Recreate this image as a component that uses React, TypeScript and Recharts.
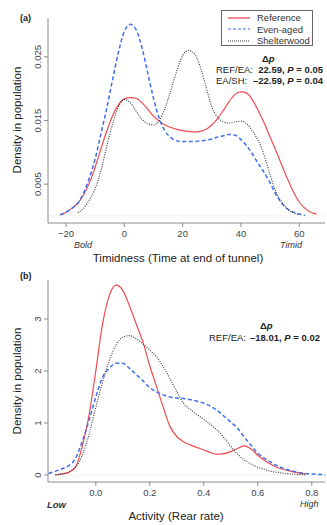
import React from 'react';
import { LineChart, Line, XAxis, YAxis, ReferenceLine } from 'recharts';

// (a) Timidness density curves
const timidX = [-22, -20, -18, -16, -14, -12, -10, -8, -6, -4, -2, 0, 2, 4, 6, 8, 10, 12, 14, 16, 18, 20, 22, 24, 26, 28, 30, 32, 34, 36, 38, 40, 42, 44, 46, 48, 50, 52, 54, 56, 58, 60, 62, 64, 66];
const timidRef = [0.0002, 0.0006, 0.0012, 0.002, 0.0033, 0.0052, 0.0077, 0.0106, 0.0134, 0.0158, 0.0175, 0.0184, 0.0186, 0.0185, 0.0178, 0.0168, 0.0157, 0.0149, 0.0143, 0.0139, 0.0136, 0.0134, 0.0133, 0.0132, 0.0133, 0.0136, 0.0143, 0.0153, 0.0166, 0.018, 0.0191, 0.0195, 0.0193, 0.0182, 0.0165, 0.0146, 0.0124, 0.0103, 0.008, 0.0058, 0.0038, 0.0022, 0.0012, 0.0006, 0.0003];
const timidEven = [0.0002, 0.0006, 0.0012, 0.002, 0.0036, 0.006, 0.009, 0.013, 0.017, 0.0215, 0.0258, 0.029, 0.0301, 0.0293, 0.0265, 0.0225, 0.0185, 0.0153, 0.0133, 0.0123, 0.0118, 0.0117, 0.0117, 0.0117, 0.0118, 0.0119, 0.0121, 0.0124, 0.0126, 0.0128, 0.0127, 0.012, 0.011, 0.0097, 0.0082, 0.0068, 0.0052, 0.0034, 0.002, 0.0011, 0.0006, 0.0003, 0.0001, null, null];
const timidShelter = [null, null, null, 0.0005, 0.0012, 0.0025, 0.0043, 0.0072, 0.011, 0.0145, 0.0172, 0.0183, 0.0178, 0.0165, 0.0152, 0.0145, 0.0143, 0.015, 0.017, 0.0198, 0.0228, 0.0252, 0.026, 0.0255, 0.0235, 0.0203, 0.0172, 0.0155, 0.0148, 0.0146, 0.0148, 0.0149, 0.0145, 0.0133, 0.0118, 0.0095, 0.0065, 0.0038, 0.0022, 0.0011, 0.0005, 0.0002, null, null, null];
const timidTicks = [-20, 0, 20, 40, 60];
const timidYTicks = [0.005, 0.015, 0.025];

// (b) Activity density curves
const actX = [-0.175, -0.15, -0.125, -0.1, -0.075, -0.05, -0.025, 0, 0.025, 0.05, 0.075, 0.1, 0.125, 0.15, 0.175, 0.2, 0.225, 0.25, 0.275, 0.3, 0.325, 0.35, 0.375, 0.4, 0.425, 0.45, 0.475, 0.5, 0.525, 0.55, 0.575, 0.6, 0.625, 0.65, 0.675, 0.7, 0.725, 0.75, 0.775, 0.8, 0.825, 0.85];
const actRef = [null, 0, 0.02, 0.05, 0.15, 0.55, 1.15, 2.0, 2.9, 3.45, 3.65, 3.55, 3.25, 2.9, 2.55, 2.1, 1.7, 1.3, 0.93, 0.74, 0.64, 0.58, 0.53, 0.48, 0.43, 0.4, 0.41, 0.45, 0.51, 0.56, 0.5, 0.38, 0.28, 0.2, 0.14, 0.1, 0.07, 0.04, 0.02, null, null, null];
const actEven = [0.03, 0.07, 0.12, 0.18, 0.32, 0.65, 1.05, 1.5, 1.88, 2.05, 2.15, 2.15, 2.05, 1.93, 1.81, 1.68, 1.6, 1.54, 1.5, 1.48, 1.47, 1.45, 1.42, 1.38, 1.32, 1.24, 1.13, 1.02, 0.9, 0.73, 0.57, 0.42, 0.32, 0.24, 0.17, 0.12, 0.08, 0.05, 0.03, 0.02, 0.01, 0.005];
const actShelter = [null, 0, 0.02, 0.06, 0.15, 0.38, 0.78, 1.3, 1.78, 2.2, 2.5, 2.65, 2.68, 2.62, 2.52, 2.4, 2.27, 2.08, 1.85, 1.6, 1.38, 1.26, 1.16, 1.07, 0.97, 0.86, 0.72, 0.55, 0.4, 0.29, 0.21, 0.15, 0.11, 0.07, 0.05, 0.03, 0.02, 0.01, 0.005, null, null, null];
const actTicks = [0, 0.2, 0.4, 0.6, 0.8];
const actYTicks = [0, 1, 2, 3];

const timidRows = timidX.map((x, i) => ({ x, ref: timidRef[i], even: timidEven[i], shelter: timidShelter[i] }));
const actRows = actX.map((x, i) => ({ x, ref: actRef[i], even: actEven[i], shelter: actShelter[i] }));

const FONT = '"Liberation Sans", Arial, sans-serif';
const colors = {
    ref: '#ef4b4f',
    even: '#3f6ff2',
    shelter: '#333333',
    axis: '#8c8c8c',
    tick: '#444444',
    text: '#222222',
};

const XTick = (fmt: (v: number) => string) => (props: any) => {
    const { x, y, payload } = props;
    return (
        <text x={x} y={y + 8} textAnchor="middle" fontSize={9.5} fill={colors.tick} fontFamily={FONT}>
            {fmt(payload.value)}
        </text>
    );
};

const YTick = (fmt: (v: number) => string) => (props: any) => {
    const { x, y, payload } = props;
    return (
        <text x={x - 1} y={y} textAnchor="middle" fontSize={9.5} fill={colors.tick} fontFamily={FONT} transform={`rotate(-90, ${x - 1}, ${y})`}>
            {fmt(payload.value)}
        </text>
    );
};

const minus = (v: number) => (v < 0 ? '\u2212' + Math.abs(v) : String(v));

function Series() {
    return [
        <Line key="ref" dataKey="ref" type="monotone" stroke={colors.ref} strokeWidth={1.2} dot={false} isAnimationActive={false} />,
        <Line key="even" dataKey="even" type="monotone" stroke={colors.even} strokeWidth={1.5} strokeDasharray="4 2.5" dot={false} isAnimationActive={false} />,
        <Line key="shelter" dataKey="shelter" type="monotone" stroke={colors.shelter} strokeWidth={1.1} strokeDasharray="1 1.4" dot={false} isAnimationActive={false} />,
    ];
}

const abs = (left: number, top: number, extra: React.CSSProperties = {}): React.CSSProperties => ({
    position: 'absolute',
    left,
    top,
    fontFamily: FONT,
    color: colors.text,
    whiteSpace: 'nowrap',
    lineHeight: 1,
    ...extra,
});

function LegendRow({ label, stroke, dash, width }: { label: string; stroke: string; dash?: string; width: number }) {
    return (
        <div style={{ display: 'flex', alignItems: 'center', height: 11.5 }}>
            <svg width={24} height={6} style={{ marginLeft: 6, marginRight: 5 }}>
                <line x1={0} y1={3} x2={22} y2={3} stroke={stroke} strokeWidth={width} strokeDasharray={dash} />
            </svg>
            <span style={{ fontSize: 9.5, color: '#333' }}>{label}</span>
        </div>
    );
}

export default function App() {
    return (
        <div style={{ position: 'absolute', left: 0, top: 0, width: 327, height: 525, background: '#fff', overflow: 'hidden' }}>
            {/* panel (a) */}
            <div style={{ position: 'absolute', left: 0, top: 0 }}>
                <LineChart width={327} height={262} data={timidRows} margin={{ top: 18, right: 2, left: 0, bottom: 0 }}>
                    <XAxis
                        type="number"
                        dataKey="x"
                        domain={[-26.2, 68.85]}
                        ticks={timidTicks}
                        allowDataOverflow
                        height={39}
                        stroke={colors.axis}
                        tickSize={4}
                        tick={XTick(minus)}
                    />
                    <YAxis
                        type="number"
                        domain={[-0.0011, 0.0311]}
                        ticks={timidYTicks}
                        allowDataOverflow
                        width={48}
                        stroke={colors.axis}
                        tickSize={4}
                        tick={YTick((v) => v.toFixed(3))}
                    />
                    <ReferenceLine y={0} stroke="#eeeeee" strokeWidth={1} />
                    {Series()}
                </LineChart>
            </div>

            <div style={abs(20, 14, { fontSize: 9, fontWeight: 'bold' })}>(a)</div>
            <div style={abs(18, 120, { fontSize: 11.5, transform: 'translate(-50%, -50%) rotate(-90deg)' })}>Density in population</div>
            <div style={abs(74, 241, { fontSize: 9, fontStyle: 'italic', color: '#333' })}>Bold</div>
            <div style={abs(280, 241, { fontSize: 9, fontStyle: 'italic', color: '#333' })}>Timid</div>
            <div style={abs(178, 253, { fontSize: 11.5, transform: 'translateX(-50%)' })}>Timidness (Time at end of tunnel)</div>

            <div style={{ position: 'absolute', left: 221, top: 10, width: 92, height: 36, border: '1px solid #666', fontFamily: FONT, paddingTop: 1, boxSizing: 'border-box' }}>
                <LegendRow label="Reference" stroke={colors.ref} width={1.3} />
                <LegendRow label="Even-aged" stroke={colors.even} dash="3 2" width={1.2} />
                <LegendRow label="Shelterwood" stroke={colors.shelter} dash="1 1" width={1.1} />
            </div>

            <div style={abs(262, 54, { fontSize: 9.5, fontWeight: 'bold' })}>
                Δ<i>p</i>
            </div>
            <div style={abs(216, 65, { fontSize: 9.5 })}>REF/EA:</div>
            <div style={abs(323, 65, { fontSize: 9.5, fontWeight: 'bold', transform: 'translateX(-100%)' })}>
                22.59, <i>P</i> = 0.05
            </div>
            <div style={abs(216, 76, { fontSize: 9.5 })}>EA/SH:</div>
            <div style={abs(323, 76, { fontSize: 9.5, fontWeight: 'bold', transform: 'translateX(-100%)' })}>
                –22.59, <i>P</i> = 0.04
            </div>

            {/* panel (b) */}
            <div style={{ position: 'absolute', left: 0, top: 262 }}>
                <LineChart width={327} height={263} data={actRows} margin={{ top: 18, right: 2, left: 0, bottom: 0 }}>
                    <XAxis
                        type="number"
                        dataKey="x"
                        domain={[-0.177, 0.849]}
                        ticks={actTicks}
                        allowDataOverflow
                        height={43}
                        stroke={colors.axis}
                        tickSize={4}
                        tick={XTick((v) => v.toFixed(1))}
                    />
                    <YAxis
                        type="number"
                        domain={[-0.135, 3.75]}
                        ticks={actYTicks}
                        allowDataOverflow
                        width={48}
                        stroke={colors.axis}
                        tickSize={4}
                        tick={YTick((v) => String(v))}
                    />
                    <ReferenceLine y={0} stroke="#eeeeee" strokeWidth={1} />
                    {Series()}
                </LineChart>
            </div>

            <div style={abs(20, 272, { fontSize: 9, fontWeight: 'bold' })}>(b)</div>
            <div style={abs(18, 381, { fontSize: 11.5, transform: 'translate(-50%, -50%) rotate(-90deg)' })}>Density in population</div>
            <div style={abs(47, 500, { fontSize: 9.5, fontStyle: 'italic', fontWeight: 'bold', color: '#333' })}>Low</div>
            <div style={abs(300, 500, { fontSize: 9, fontStyle: 'italic', color: '#333' })}>High</div>
            <div style={abs(176, 511, { fontSize: 11.5, transform: 'translateX(-50%)' })}>Activity (Rear rate)</div>

            <div style={abs(260, 321, { fontSize: 9.5, fontWeight: 'bold' })}>
                Δ<i>p</i>
            </div>
            <div style={abs(209, 333, { fontSize: 9.5 })}>REF/EA:</div>
            <div style={abs(320, 333, { fontSize: 9.5, fontWeight: 'bold', transform: 'translateX(-100%)' })}>
                –18.01, <i>P</i> = 0.02
            </div>
        </div>
    );
}
